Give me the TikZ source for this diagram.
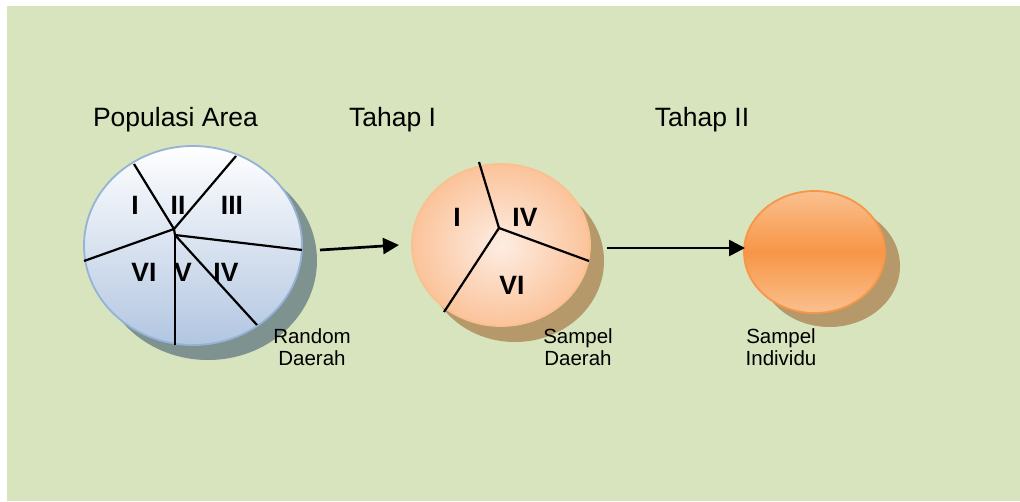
\documentclass[tikz,border=0pt]{standalone}
\usepackage{fontspec}
\setmainfont{Liberation Sans}
\usetikzlibrary{shapes.geometric,arrows.meta}

\definecolor{bgGreen}{HTML}{D7E4BD}
\definecolor{blueEdge}{HTML}{95B3D7}
\definecolor{blueLow}{HTML}{B2C6E1}
\definecolor{grayShade}{HTML}{7E938F}
\definecolor{tanShade}{HTML}{B5996A}
\definecolor{peachEdge}{HTML}{FAC090}
\definecolor{peachIn}{HTML}{FDEDE3}
\definecolor{peachOut}{HTML}{FBC39A}
\definecolor{orangeMid}{HTML}{F79646}
\definecolor{orangeLight}{HTML}{FAC08F}

\tikzset{
  disc/.style={ellipse, inner sep=0pt, line width=1.8pt},
  cut/.style={line width=2.2pt, black},
  flow/.style={line width=2.7pt, -{Triangle[length=16pt,width=16pt]}},
  title/.style={font=\fontsize{26.5}{30}\selectfont, anchor=base, inner sep=0pt},
  caption/.style={font=\fontsize{20.5}{22.5}\selectfont, align=center, anchor=north, inner sep=0pt},
  numeral/.style={font=\fontsize{26.5}{28}\selectfont\bfseries, inner sep=0pt},
}

\begin{document}
\begin{tikzpicture}[x=1pt,y=-1pt]
\useasboundingbox (0,0) rectangle (1020,501);
\fill[white] (0,0) rectangle (1020,501);
\fill[bgGreen] (7,6) rectangle (1020,501);

% drop shadows
\fill[grayShade] (208,260.5) ellipse [x radius=109, y radius=99.5];
\fill[tanShade] (515,261) ellipse [x radius=89, y radius=81];
\fill[tanShade] (829.5,266) ellipse [x radius=70.5, y radius=61];

% population area
\node[disc, draw=blueEdge, top color=white, bottom color=blueLow,
      minimum width=218pt, minimum height=199pt] (pop) at (193,245.5) {};
% sample areas
\node[disc, draw=peachEdge, inner color=peachIn, outer color=peachOut,
      minimum width=178pt, minimum height=162pt] (area) at (501,245) {};
% sample individuals
\node[disc, draw=orangeMid, top color=orangeLight, bottom color=orangeLight,
      middle color=orangeMid, minimum width=141pt, minimum height=122pt] (ind) at (814.5,252) {};

% region boundaries of the population
\coordinate (hubA) at (174,229);
\coordinate (hubB) at (175,235);
\draw[cut] (hubA) -- (134,164);
\draw[cut] (hubA) -- (236,156);
\draw[cut] (hubA) -- (84,261);
\draw[cut] (hubA) -- (hubB);
\draw[cut] (hubB) -- (302,250);
\draw[cut] (hubB) -- (175,345);
\draw[cut] (hubB) -- (257,325);

\node[numeral] (p1) at (135,205) {I};
\node[numeral] (p2) at (178,205) {II};
\node[numeral] (p3) at (232,205) {III};
\node[numeral] (p6) at (144,272) {VI};
\node[numeral] (p5) at (183,272) {V};
\node[numeral] (p4) at (226,272) {IV};

% region boundaries of the sample
\coordinate (hubC) at (499,228);
\draw[cut] (hubC) -- (479,162);
\draw[cut] (hubC) -- (589,261);
\draw[cut] (hubC) -- (444,312);

\node[numeral] (s1) at (457,217) {I};
\node[numeral] (s4) at (525,217) {IV};
\node[numeral] (s6) at (512,285) {VI};

% stage arrows
\coordinate (f1s) at (320,250);
\coordinate (f1e) at (399,245);
\coordinate (f2s) at (607,248);
\coordinate (f2e) at (745,248);
\draw[flow] (f1s) -- (f1e);
\draw[flow] (f2s) -- (f2e);

% headings
\node[title] (tPop) at (175.5,126) {Populasi Area};
\node[title] (tSt1) at (392.5,126) {Tahap I};
\node[title] (tSt2) at (702,126) {Tahap II};

% captions
\node[caption] (cRand) at (312,328) {Random\\Daerah};
\node[caption] (cArea) at (578,328) {Sampel\\Daerah};
\node[caption] (cInd) at (781,328) {Sampel\\Individu};
\end{tikzpicture}
\end{document}
